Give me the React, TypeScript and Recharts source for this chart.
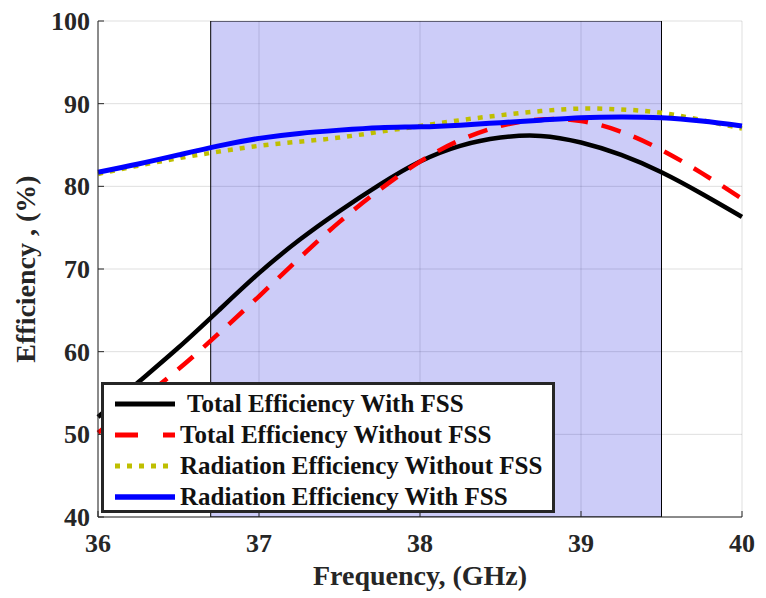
import React from "react"
import {
  ComposedChart,
  Line,
  XAxis,
  YAxis,
  CartesianGrid,
  ReferenceArea,
  Legend,
} from "recharts"

const freq = [36, 36.25, 36.5, 36.75, 37, 37.25, 37.5, 37.75, 38, 38.25, 38.5, 38.75, 39, 39.25, 39.5, 39.75, 40]
const totalWithFss = [52.1, 56.3, 60.5, 65.0, 69.5, 73.5, 77.0, 80.2, 83.0, 84.9, 85.9, 86.1, 85.3, 83.8, 81.7, 79.1, 76.3]
const totalWithoutFss = [50.2, 54.0, 57.9, 62.2, 66.7, 71.3, 75.7, 79.6, 83.0, 85.6, 87.3, 88.1, 87.9, 86.6, 84.4, 81.6, 78.5]
const radWithoutFss = [81.5, 82.5, 83.4, 84.2, 84.9, 85.4, 85.9, 86.6, 87.3, 88.0, 88.6, 89.1, 89.4, 89.3, 88.9, 88.0, 87.0]
const radWithFss = [81.7, 82.7, 83.8, 84.9, 85.8, 86.4, 86.8, 87.1, 87.2, 87.4, 87.7, 88.0, 88.3, 88.4, 88.3, 87.9, 87.3]

const xTicks = [36, 37, 38, 39, 40]
const yTicks = [40, 50, 60, 70, 80, 90, 100]
const band = [36.7, 39.5]

const data = freq.map((f, i) => ({
  f,
  totalWith: totalWithFss[i],
  totalWithout: totalWithoutFss[i],
  radWithout: radWithoutFss[i],
  radWith: radWithFss[i],
}))

const FONT = "Liberation Serif, Times New Roman, DejaVu Serif, serif"
const AXIS = "#262626"

const series = [
  { key: "totalWith", name: "Total Efficiency With FSS", color: "#000000", dash: undefined, width: 4.5 },
  { key: "totalWithout", name: "Total Efficiency Without FSS", color: "#ff0000", dash: "20 14", width: 4.5 },
  { key: "radWithout", name: "Radiation Efficiency Without FSS", color: "#bfbf00", dash: "5 7", width: 4.5 },
  { key: "radWith", name: "Radiation Efficiency With FSS", color: "#0000ff", dash: undefined, width: 5 },
]

function YTick(props: any) {
  const { x, y, payload } = props
  return (
    <g>
      <line x1={x + 8} x2={x + 14} y1={y} y2={y} stroke={AXIS} strokeWidth={1} />
      <text x={x} y={y} dy="0.35em" textAnchor="end" style={{ fontFamily: FONT, fontWeight: 700, fontSize: 26 }} fill={AXIS}>
        {payload.value}
      </text>
    </g>
  )
}

function XTick(props: any) {
  const { x, y, payload } = props
  return (
    <g>
      <line x1={x} x2={x} y1={y - 8} y2={y - 14} stroke={AXIS} strokeWidth={1} />
      <text x={x} y={y} dy={27} textAnchor="middle" style={{ fontFamily: FONT, fontWeight: 700, fontSize: 26 }} fill={AXIS}>
        {payload.value}
      </text>
    </g>
  )
}

function YLabel(props: any) {
  const { viewBox } = props
  const cx = viewBox.x + 25
  const cy = viewBox.y + viewBox.height / 2
  return (
    <text
      x={cx}
      y={cy}
      transform={`rotate(-90 ${cx} ${cy})`}
      textAnchor="middle"
      dominantBaseline="central"
      style={{ fontFamily: FONT, fontWeight: 700, fontSize: 28 }}
      fill={AXIS}
    >
      Efficiency , (%)
    </text>
  )
}

function XLabel(props: any) {
  const { viewBox } = props
  return (
    <text
      x={viewBox.x + viewBox.width / 2}
      y={viewBox.y + 58}
      textAnchor="middle"
      dominantBaseline="central"
      style={{ fontFamily: FONT, fontWeight: 700, fontSize: 28 }}
      fill={AXIS}
    >
      Frequency, (GHz)
    </text>
  )
}

function LegendBox() {
  return (
    <div
      style={{
        boxSizing: "border-box",
        width: 454,
        height: 131,
        border: `3px solid ${AXIS}`,
        background: "#fff",
        paddingTop: 3,
        fontFamily: FONT,
        fontWeight: 700,
        fontSize: 25,
        color: "#111",
      }}
    >
      {series.map((s, i) => (
        <div key={s.key} style={{ display: "flex", alignItems: "center", height: 31 }}>
          <svg width={60} height={10} style={{ marginLeft: 11, flex: "none" }}>
            <line
              x1={0}
              x2={60}
              y1={5}
              y2={5}
              stroke={s.color}
              strokeWidth={s.width + 0.5}
              strokeDasharray={s.key === "totalWithout" ? "23 25" : s.dash}
            />
          </svg>
          <span style={{ marginLeft: i === 0 ? 12 : 5, whiteSpace: "nowrap", lineHeight: "31px" }}>{s.name}</span>
        </div>
      ))}
    </div>
  )
}

export default function App() {
  return (
    <div style={{ position: "absolute", left: 0, top: 0, width: 766, height: 598, background: "#fff" }}>
      <ComposedChart width={766} height={598} data={data} margin={{ top: 21, right: 24, left: 0, bottom: 0 }}>
        <ReferenceArea
          x1={band[0]}
          x2={band[1]}
          y1={40}
          y2={100}
          fill="#0000dc"
          fillOpacity={0.2}
          stroke="#000"
          strokeWidth={1}
          ifOverflow="hidden"
        />
        <CartesianGrid stroke="#000" strokeOpacity={0.13} />
        <XAxis
          dataKey="f"
          type="number"
          domain={[36, 40]}
          ticks={xTicks}
          height={81}
          stroke={AXIS}
          tickLine={false}
          tick={<XTick />}
          label={<XLabel />}
        />
        <XAxis
          xAxisId="top"
          type="number"
          domain={[36, 40]}
          ticks={xTicks}
          orientation="top"
          height={0}
          mirror
          stroke={AXIS}
          tick={false}
          tickSize={6}
        />
        <YAxis
          type="number"
          domain={[40, 100]}
          ticks={yTicks}
          width={98}
          stroke={AXIS}
          tickLine={false}
          tick={<YTick />}
          label={<YLabel />}
        />
        <YAxis
          yAxisId="right"
          type="number"
          domain={[40, 100]}
          ticks={yTicks}
          orientation="right"
          width={0}
          mirror
          stroke={AXIS}
          tick={false}
          tickSize={6}
        />
        {series.map((s) => (
          <Line
            key={s.key}
            type="natural"
            dataKey={s.key}
            name={s.name}
            stroke={s.color}
            strokeWidth={s.width}
            strokeDasharray={s.dash}
            dot={false}
            activeDot={false}
            isAnimationActive={false}
          />
        ))}
        <Legend
          layout="vertical"
          align="center"
          verticalAlign="middle"
          content={<LegendBox />}
          wrapperStyle={{ left: 101, top: 382, width: 454, height: 131 }}
        />
      </ComposedChart>
    </div>
  )
}
